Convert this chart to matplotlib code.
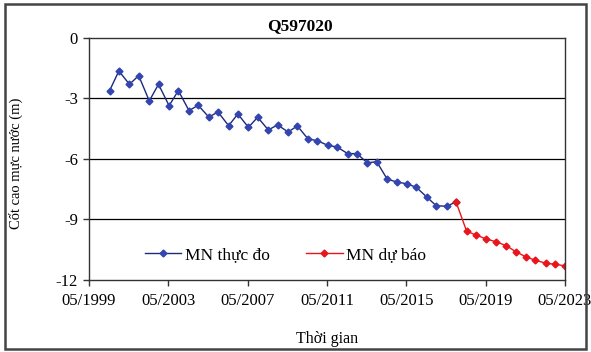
import matplotlib
matplotlib.use("Agg")
import matplotlib.pyplot as plt
import matplotlib.dates as mdates
import pandas as pd
from matplotlib.patches import Rectangle

# Observed water level (MN thuc do), two readings per year (May / Nov)
obs_dates = []
for yr in range(2000, 2018):
    obs_dates.append("%d-05-15" % yr)
    obs_dates.append("%d-11-01" % yr)
obs_level = [-2.62, -1.65, -2.31, -1.88, -3.13, -2.31, -3.37, -2.62, -3.61, -3.35,
             -3.93, -3.68, -4.36, -3.78, -4.44, -3.94, -4.57, -4.32, -4.67, -4.37,
             -5.01, -5.10, -5.33, -5.41, -5.74, -5.74, -6.20, -6.14, -7.01, -7.14,
             -7.24, -7.41, -7.90, -8.32, -8.35, -8.13]

# Forecast water level (MN du bao)
fc_dates = ["2017-11-01"]
for yr in range(2018, 2023):
    fc_dates.append("%d-05-15" % yr)
    fc_dates.append("%d-11-01" % yr)
fc_dates.append("2023-05-01")
fc_level = [-8.13, -9.58, -9.77, -9.97, -10.10, -10.30, -10.59, -10.86, -11.02,
            -11.17, -11.22, -11.30]

tick_dates = ["1999-05-01", "2003-05-01", "2007-05-01", "2011-05-01",
              "2015-05-01", "2019-05-01", "2023-05-01"]
y_ticks = [0, -3, -6, -9, -12]

plt.rcParams['font.family'] = ['Liberation Serif', 'DejaVu Serif']

fig = plt.figure(figsize=(5.91, 3.52), dpi=100)
ax = fig.add_axes([0.1506, 0.2045, 0.8054, 0.6885])

x_obs = pd.to_datetime(obs_dates)
x_fc = pd.to_datetime(fc_dates)

ax.plot(x_obs, obs_level, color='#1c2a78', lw=1.0, marker='D', ms=3.5,
        mfc='#3345b0', mec='#3345b0', label='MN thực đo')
ax.plot(x_fc, fc_level, color='#e8161c', lw=1.0, marker='D', ms=3.5,
        mfc='#e8161c', mec='#e8161c', label='MN dự báo')

xt = pd.to_datetime(tick_dates)
ax.set_xlim(xt[0], xt[-1])
ax.set_xticks(xt)
ax.xaxis.set_major_formatter(mdates.DateFormatter('%m/%Y'))
ax.set_ylim(-12, 0)
ax.set_yticks(y_ticks)
ax.set_yticklabels([str(v) for v in y_ticks])

for v in [-3, -6, -9]:
    ax.axhline(v, color='black', lw=0.9, zorder=0)

for s in ax.spines.values():
    s.set_color('#333333')
    s.set_linewidth(1.0)
ax.tick_params(axis='both', direction='out', length=4, width=1, color='#333333',
               labelsize=12, pad=4)
ax.tick_params(axis='x', pad=5)

ax.set_xlabel('Thời gian', fontsize=11.5, labelpad=16)
ax.set_ylabel('Cốt cao mực nước (m)', fontsize=10.5, labelpad=13)
ax.yaxis.set_label_coords(-0.138, 0.48)

fig.text(0.508, 0.925, 'Q597020', ha='center', va='center', fontsize=12.5,
         fontweight='bold')

ax.legend(loc='center left', bbox_to_anchor=(0.099, 0.103), ncol=2, frameon=False,
          fontsize=12.5, borderpad=0, handlelength=2.1, handletextpad=0.2,
          columnspacing=2.1)

# outer frame
fig.patches.append(Rectangle((0.009, 0.008), 0.982, 0.98, transform=fig.transFigure,
                             fill=False, edgecolor='#444444', lw=1.8))

fig.savefig('out.png', dpi=100)
